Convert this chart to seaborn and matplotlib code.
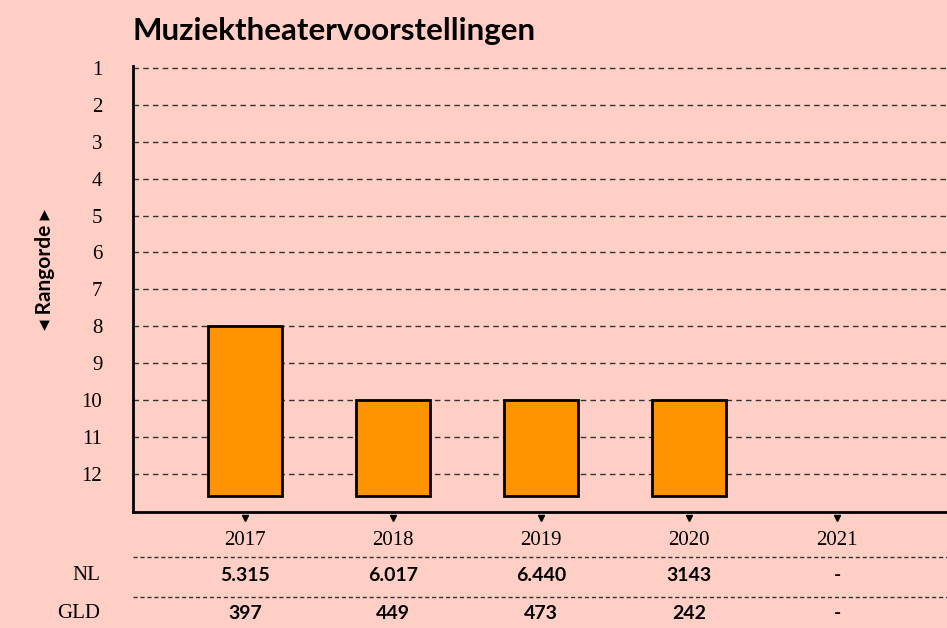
import numpy as np
import pandas as pd
import seaborn as sns
import matplotlib.pyplot as plt
from matplotlib import transforms

# Data
years = ['2017', '2018', '2019', '2020', '2021']
rank = [8, 10, 10, 10]          # no rank for 2021
nl_counts = ['5.315', '6.017', '6.440', '3143', '-']
gld_counts = ['397', '449', '473', '242', '-']
rank_ticks = list(range(1, 13))
baseline = 12.6

bg = '#FFCFC6'
bar_color = '#FF9300'

sns.set_theme(style='white')
plt.rcParams['font.family'] = ['DejaVu Sans']
plt.rcParams['text.color'] = 'black'
plt.rcParams['xtick.color'] = 'black'
plt.rcParams['ytick.color'] = 'black'

fig = plt.figure(figsize=(9.47, 6.28), dpi=100, facecolor=bg)
ax = fig.add_axes([0.1404, 0.185, 0.8596, 0.71])
ax.set_facecolor(bg)

df = pd.DataFrame({'year': years[:len(rank)], 'rank': rank})
df['height'] = baseline - df['rank']

sns.barplot(data=df, x='year', y='height', order=years, bottom=df['rank'].values,
            color=bar_color, saturation=1, width=0.5, edgecolor='black',
            linewidth=2, ax=ax, zorder=3)

ax.set_xlim(-0.755, 4.74)
ax.set_ylim(13.03, 0.946)

# grid
for r in rank_ticks:
    ax.axhline(r, color='#333333', lw=1, ls=(0, (4, 3)), zorder=1)

for s in ['top', 'right']:
    ax.spines[s].set_visible(False)
for s in ['left', 'bottom']:
    ax.spines[s].set_color('black')
    ax.spines[s].set_linewidth(2)

ax.set_yticks(rank_ticks)
ax.set_yticklabels([str(r) for r in rank_ticks], family='Liberation Serif', fontsize=15)
ax.tick_params(axis='y', direction='in', length=3, width=1, color='black', pad=22)
ax.set_xticks(range(len(years)))
ax.set_xticklabels(years, family='Liberation Serif', fontsize=15)
ax.tick_params(axis='x', length=0, pad=14)
ax.set_xlabel('')
ax.set_ylabel('')

# triangle tick markers
trans = transforms.blended_transform_factory(ax.transData, ax.transAxes)
ax.plot(range(len(years)), [-0.014] * len(years), 'v', color='black', ms=5,
        transform=trans, clip_on=False)

# table below
for yl in [-0.101, -0.19]:
    ax.plot([0, 1], [yl, yl], color='#333333', lw=1, ls=(0, (3, 2)),
            transform=ax.transAxes, clip_on=False)
for i in range(len(years)):
    ax.text(i, -0.1435, nl_counts[i], transform=trans, ha='center', va='center',
            fontsize=14, fontweight='bold', family='Lato')
    ax.text(i, -0.229, gld_counts[i], transform=trans, ha='center', va='center',
            fontsize=14, fontweight='bold', family='Lato')
fig.text(0.106, 1 - 576 / 628, 'NL', ha='right', va='center', fontsize=15,
         family='Liberation Serif')
fig.text(0.106, 1 - 614 / 628, 'GLD', ha='right', va='center', fontsize=15,
         family='Liberation Serif')

# y label and title
fig.text(0.047, 1 - 270 / 628, '\u25c2 Rangorde \u25b8', rotation=90, ha='center',
         va='center', fontsize=15, fontweight='bold', family=['Lato', 'DejaVu Sans'])
fig.text(0.1404, 1 - 31 / 628, 'Muziektheatervoorstellingen', ha='left', va='center',
         fontsize=22.5, fontweight='bold', family='Lato')

fig.savefig('out.png', dpi=100, facecolor=bg)
